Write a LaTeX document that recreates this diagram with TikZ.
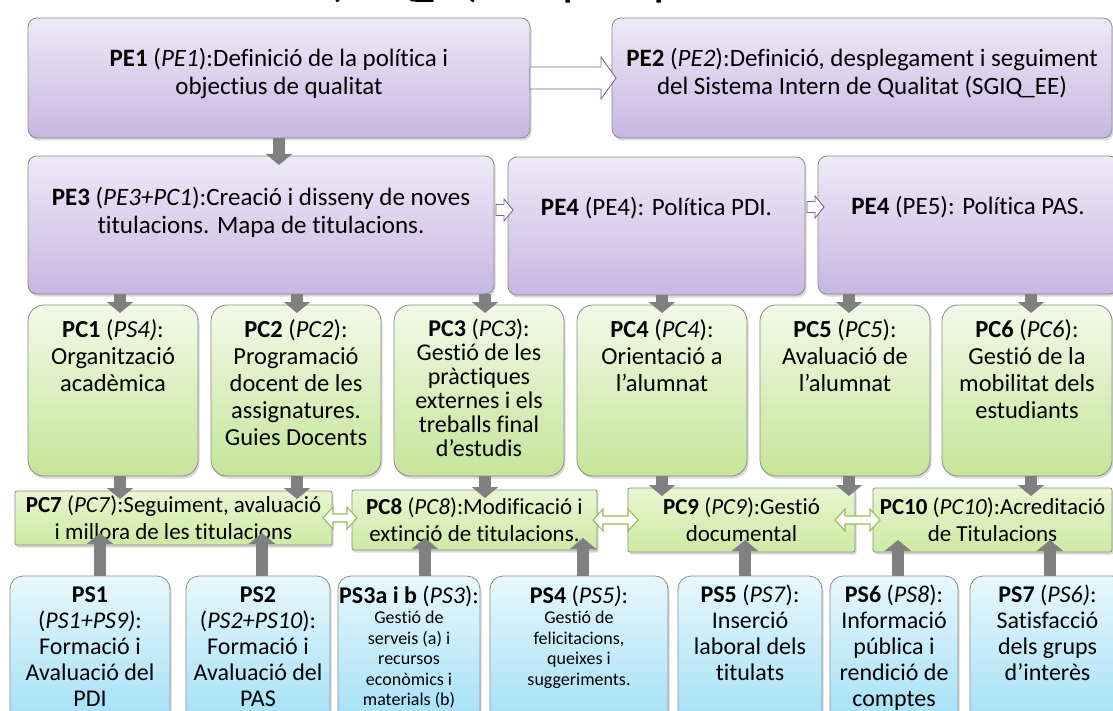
\documentclass[tikz,border=0pt]{standalone}
\usepackage{fontspec}
\setmainfont{Carlito}[Ligatures=NoCommon]
\usetikzlibrary{arrows.meta,shadows,calc}
\definecolor{peTop}{RGB}{238,234,247}
\definecolor{peBot}{RGB}{200,183,226}
\definecolor{pcTop}{RGB}{242,249,232}
\definecolor{pcBot}{RGB}{197,229,152}
\definecolor{rwTop}{RGB}{232,246,210}
\definecolor{rwBot}{RGB}{205,234,162}
\definecolor{psTop}{RGB}{232,247,253}
\definecolor{psBot}{RGB}{160,223,246}
\definecolor{bord}{RGB}{140,140,140}
\definecolor{purp}{RGB}{128,100,162}
\definecolor{grn}{RGB}{155,187,89}
\definecolor{garr}{RGB}{128,128,128}
\newcommand{\tbx}[4]{\parbox[t][#2][t]{#1}{\centering\vspace*{#3}\strut #4\par}}
\newcommand{\cbx}[3]{\parbox[c][#2][c]{#1}{\centering #3\par}}
\newcommand\sarrow[9]{%
 \draw[#1] let \p1=(#2), \p2=(#3) in
  ({\x1+#4},{\y1+#6+#7}) -- ({\x2+#5-#9},{\y1+#6+#7}) -- ({\x2+#5-#9},{\y1+#6+#8}) --
  ({\x2+#5},{\y1+#6}) -- ({\x2+#5-#9},{\y1+#6-#8}) -- ({\x2+#5-#9},{\y1+#6-#7}) --
  ({\x1+#4},{\y1+#6-#7}) -- cycle;}
\newcommand\darrow[6]{%
 \draw[hollowG] let \p1=(#1), \p2=(#2) in
  ({\x1+#3},\y1) -- ({\x1+#3+10pt},{\y1+#6}) -- ({\x1+#3+10pt},{\y1+#5}) --
  ({\x2+#4-10pt},{\y1+#5}) -- ({\x2+#4-10pt},{\y1+#6}) -- ({\x2+#4},\y1) --
  ({\x2+#4-10pt},{\y1-#6}) -- ({\x2+#4-10pt},{\y1-#5}) -- ({\x1+#3+10pt},{\y1-#5}) --
  ({\x1+#3+10pt},{\y1-#6}) -- cycle;}
\tikzset{
 box/.style={anchor=north west, inner sep=0pt, outer sep=0pt, draw=bord, line width=0.8pt,
   drop shadow={shadow xshift=1.5pt, shadow yshift=-2.5pt, opacity=0.3}},
 pe/.style={box, rounded corners=9pt, top color=peTop, bottom color=peBot, font=\fontsize{25}{28}\selectfont},
 pc/.style={box, rounded corners=16pt, top color=pcTop, bottom color=pcBot, font=\fontsize{24.5}{27}\selectfont},
 rw/.style={box, rounded corners=2pt, top color=rwTop, bottom color=rwBot, font=\fontsize{23}{27}\selectfont},
 ps/.style={box, rounded corners=13pt, top color=psTop, bottom color=psBot, font=\fontsize{24}{26}\selectfont},
 hollowP/.style={draw=purp, fill=white, line width=0.9pt},
 hollowG/.style={draw=grn, fill=white, line width=1.1pt},
 garrow/.style={draw=garr, line width=12pt, -{Triangle[width=26pt,length=11pt]}},
}
\begin{document}
\begin{tikzpicture}[x=1pt,y=-1pt]
\useasboundingbox (0,0) rectangle (1113,711);
\fill[white] (0,0) rectangle (1113,711);
\clip (0,0) rectangle (1113,711);
\node[anchor=base west, inner sep=0pt, font=\bfseries\fontsize{36}{40}\selectfont] (title) at (330,-2) {(SGIQ\_EE) – Mapa de processos};
% row 1
\node[pe] (PE1) at (28,18) {\tbx{502pt}{120pt}{29pt}{\textbf{PE1} (\textit{PE1}):Definició de la política i\\objectius de qualitat}};
\node[pe] (PE2) at (612,18) {\tbx{500pt}{120pt}{29pt}{\textbf{PE2} (\textit{PE2}):Definició, desplegament i seguiment\\del Sistema Intern de Qualitat (SGIQ\_EE)}};
% row 2
\node[pe] (PE3) at (28,156) {\tbx{466pt}{138pt}{30pt}{\textbf{PE3} (\textit{PE3+PC1}):Creació i disseny de noves\\titulacions. Mapa de titulacions.}};
\node[pe] (PE4) at (508,157) {\tbx{297pt}{138pt}{39pt}{\textbf{PE4} (PE4): Política PDI.}};
\node[pe] (PE5) at (818,156) {\tbx{300pt}{138pt}{39pt}{\textbf{PE4} (PE5): Política PAS.}};
% row 3
\node[pc] (PC1) at (28,305) {\tbx{170pt}{171pt}{14pt}{\textbf{PC1} (\textit{PS4)}:\\Organització\\acadèmica}};
\node[pc] (PC2) at (211,305) {\tbx{170pt}{171pt}{14pt}{\textbf{PC2} (\textit{PC2}):\\Programació\\docent de les\\assignatures.\\Guies Docents}};
\node[pc, font=\fontsize{24}{24}\selectfont] (PC3) at (394,305) {\tbx{170pt}{171pt}{14pt}{\textbf{PC3} (\textit{PC3}):\\Gestió de les\\pràctiques\\externes i els\\treballs final\\d’estudis}};
\node[pc] (PC4) at (577,305) {\tbx{170pt}{171pt}{14pt}{\textbf{PC4} (\textit{PC4}):\\Orientació a\\l’alumnat}};
\node[pc] (PC5) at (760,305) {\tbx{170pt}{171pt}{14pt}{\textbf{PC5} (\textit{PC5}):\\Avaluació de\\l’alumnat}};
\node[pc] (PC6) at (942,305) {\tbx{170pt}{171pt}{14pt}{\textbf{PC6} (\textit{PC6}):\\Gestió de la\\mobilitat dels\\estudiants}};
% row 4
\node[rw] (PC7) at (15,491) {\cbx{317pt}{54pt}{\textbf{PC7} (\textit{PC7}):Seguiment, avaluació\\i millora de les titulacions}};
\node[rw] (PC8) at (352,490) {\cbx{245pt}{60pt}{\textbf{PC8} (\textit{PC8}):Modificació i\\extinció de titulacions.}};
\node[rw] (PC9) at (628,488) {\cbx{227pt}{64pt}{\textbf{PC9} (\textit{PC9}):Gestió\\documental}};
\node[rw] (PC10) at (873,488) {\cbx{239pt}{64pt}{\textbf{PC10} (\textit{PC10}):Acreditació\\de Titulacions}};
% row 5
\node[ps] (PS1) at (10,576) {\tbx{160pt}{154pt}{8pt}{\textbf{PS1}\\(\textit{PS1+PS9)}:\\Formació i\\Avaluació del\\PDI}};
\node[ps] (PS2) at (186,576) {\tbx{144pt}{154pt}{8pt}{\textbf{PS2}\\(\textit{PS2+PS10}):\\Formació i\\Avaluació del\\PAS}};
\node[ps] (PS3) at (338,576) {\tbx{142pt}{154pt}{9pt}{\textbf{PS3a i b} (\textit{PS3}):\\\fontsize{18}{20.5}\selectfont Gestió de\\serveis (a) i\\recursos\\econòmics i\\materials (b)}};
\node[ps] (PS4) at (490,576) {\tbx{178pt}{154pt}{9pt}{\textbf{PS4} (\textit{PS5)}:\\\fontsize{18}{20.5}\selectfont Gestió de\\felicitacions,\\queixes i\\suggeriments.}};
\node[ps] (PS5) at (678,576) {\tbx{144pt}{154pt}{8pt}{\textbf{PS5} (\textit{PS7}):\\Inserció\\laboral dels\\titulats}};
\node[ps] (PS6) at (830,576) {\tbx{128pt}{154pt}{8pt}{\textbf{PS6} (\textit{PS8}):\\Informació\\pública i\\rendició de\\comptes}};
\node[ps] (PS7) at (970,576) {\tbx{155pt}{154pt}{8pt}{\textbf{PS7} (\textit{PS6)}:\\Satisfacció\\dels grups\\d’interès}};
% arrow columns
\coordinate (k1) at (120,0); \coordinate (k2) at (297,0); \coordinate (k3) at (485,0);
\coordinate (k4) at (662,0); \coordinate (k5) at (849,0); \coordinate (k6) at (1031,0);
\coordinate (m1) at (100,0); \coordinate (m2) at (262,0); \coordinate (m3) at (425,0);
\coordinate (m4) at (583,0); \coordinate (m5) at (745,0); \coordinate (m6) at (898,0);
\coordinate (m7) at (1050,0);
% gray arrows
\draw[garrow] (PE1.south) -- ($(PE3.north -| PE1.south)+(0,-9pt)$);
\foreach \k/\a/\b in {k1/PE3/PC1, k2/PE3/PC2, k3/PE3/PC3, k4/PE4/PC4, k5/PE5/PC5, k6/PE5/PC6}
  \draw[garrow] (\a.south -| \k) -- ($(\b.north -| \k)+(0,-8pt)$);
\foreach \k/\a/\b in {k1/PC1/PC7, k2/PC2/PC7, k3/PC3/PC8, k4/PC4/PC9, k5/PC5/PC9, k6/PC6/PC10}
  \draw[garrow] (\a.south -| \k) -- ($(\b.north -| \k)+(0,-8pt)$);
\foreach \m/\a/\b in {m1/PS1/PC7, m2/PS2/PC7, m3/PS3/PC8, m4/PS4/PC8, m5/PS5/PC9, m6/PS6/PC10, m7/PS7/PC10}
  \draw[garrow] (\a.north -| \m) -- ($(\b.south -| \m)+(0,12pt)$);
% hollow arrows
\sarrow{hollowP}{PE1.east}{PE2.west}{0pt}{4pt}{0pt}{11pt}{21pt}{15pt}
\sarrow{hollowP}{PE3.east}{PE4.west}{2pt}{5pt}{15pt}{5.5pt}{11pt}{9pt}
\sarrow{hollowP}{PE4.east}{PE5.west}{2pt}{6pt}{19pt}{5.5pt}{11pt}{9pt}
\darrow{PC7.east}{PC8.west}{-9pt}{5pt}{4pt}{11pt}
\darrow{PC8.east}{PC9.west}{-4pt}{10pt}{4pt}{11pt}
\darrow{PC9.east}{PC10.west}{-20pt}{7pt}{4pt}{11pt}
\end{tikzpicture}
\end{document}
